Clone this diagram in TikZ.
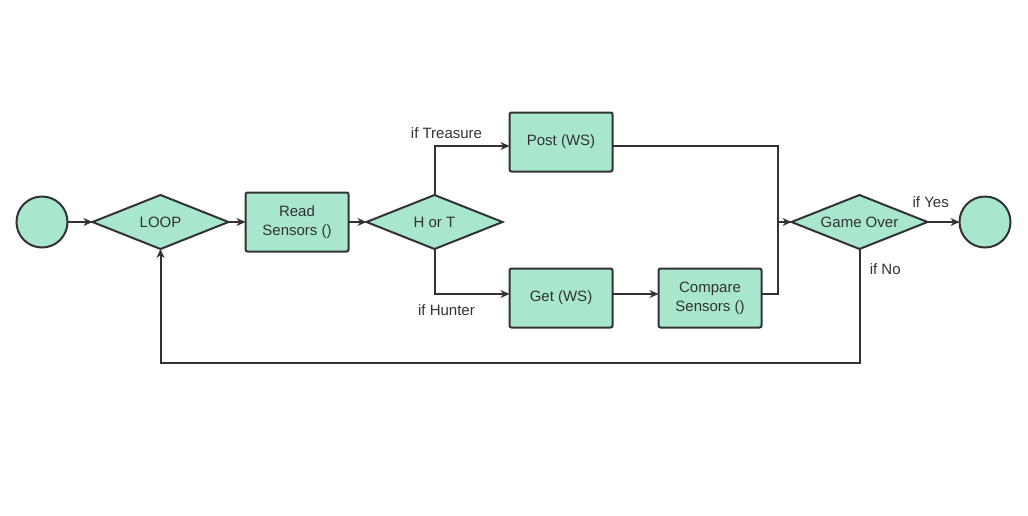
\documentclass[tikz,border=0pt]{standalone}
\usepackage{fontspec}
\setmainfont{Liberation Sans}
\usetikzlibrary{positioning,shapes.geometric,arrows.meta}
\definecolor{mint}{RGB}{168,231,205}
\definecolor{ink}{RGB}{50,50,50}

\begin{document}
\begin{tikzpicture}[->,>={Stealth[length=9pt,width=8pt]},line width=2pt,draw=ink,
  font=\fontsize{15}{19}\selectfont,text=ink,
  term/.style={circle,fill=mint,draw=ink,minimum size=51pt,inner sep=0pt,outer sep=0pt},
  decision/.style={diamond,aspect=2.5,fill=mint,draw=ink,minimum width=136pt,minimum height=54pt,inner sep=0pt,outer sep=0pt,align=center},
  process/.style={rectangle,rounded corners=2pt,fill=mint,draw=ink,minimum width=103pt,minimum height=59pt,inner sep=2pt,outer sep=0pt,align=center},
  lbl/.style={font=\fontsize{15}{19}\selectfont,text=ink}]

  \useasboundingbox (0,0) rectangle (1028pt,-515pt);

  \node[term] (start) at (42pt,-222pt) {};
  \node[decision] (loop) [right=25pt of start] {LOOP};
  \node[process] (read) [right=17pt of loop] {Read\\Sensors ()};
  \node[decision] (hort) [right=18pt of read] {H or T};
  \node[process] (post) [right=7pt of hort, yshift=80pt] {Post (WS)};
  \node[process] (get) [right=7pt of hort, yshift=-76pt] {Get (WS)};
  \node[process] (comp) [right=46pt of get] {Compare\\Sensors ()};
  \coordinate (j) at (comp.east |- hort);
  \node[decision] (over) [right=30pt of j] {Game Over};
  \node[term] (end) [right=32pt of over] {};

  \draw (start) -- (loop);
  \draw (loop) -- (read);
  \draw (read) -- (hort);
  \draw (hort.north) |- node[lbl,above=3pt,pos=0.58] {if Treasure} ([yshift=-4pt]post.west);
  \draw (hort.south) |- node[lbl,below=6pt,pos=0.58] {if Hunter} ([yshift=4pt]get.west);
  \draw ([yshift=4pt]get.east) -- ([yshift=4pt]comp.west);
  \draw ([yshift=-4pt]post.east) -| ([xshift=-14pt]over.west) -- (over.west);
  \draw[-] ([yshift=4pt]comp.east) -| ([xshift=-14pt]over.west);
  \draw (over.east) -- node[lbl,above=10pt,pos=0.1] {if Yes} (end.west);
  \draw (over.south) -- node[lbl,right=6pt,pos=0.18] {if No} ++(0,-114pt) -| (loop.south);
\end{tikzpicture}
\end{document}
